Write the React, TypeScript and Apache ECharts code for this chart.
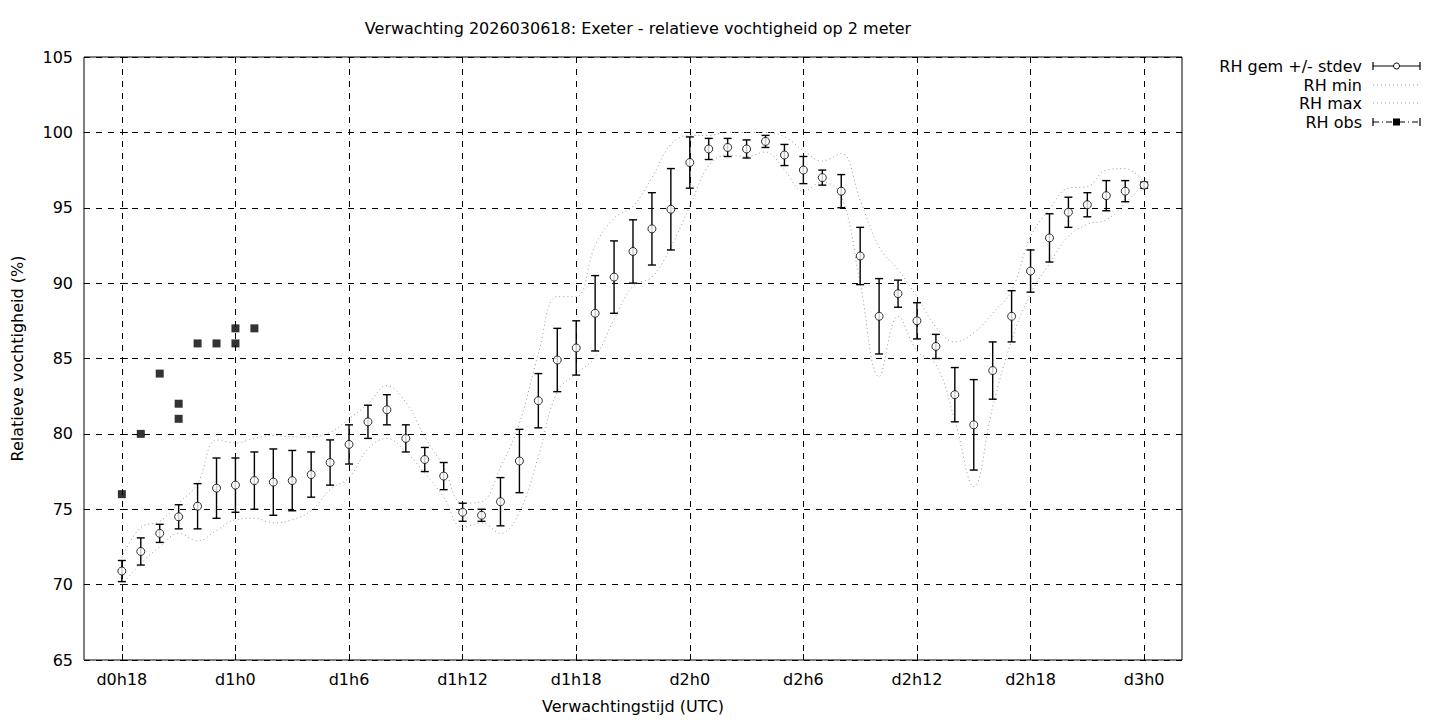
import React, { useEffect, useRef } from "react";
import * as echarts from "echarts";

const hours = Array.from({ length: 55 }, (_, i) => i);

const rhMean = [
  70.9, 72.2, 73.4, 74.5, 75.2, 76.4, 76.6, 76.9, 76.8, 76.9,
  77.3, 78.1, 79.3, 80.8, 81.6, 79.7, 78.3, 77.2, 74.8, 74.6,
  75.5, 78.2, 82.2, 84.9, 85.7, 88.0, 90.4, 92.1, 93.6, 94.9,
  98.0, 98.9, 99.0, 98.9, 99.4, 98.5, 97.5, 97.0, 96.1, 91.8,
  87.8, 89.3, 87.5, 85.8, 82.6, 80.6, 84.2, 87.8, 90.8, 93.0,
  94.7, 95.2, 95.8, 96.1, 96.5,
];

const rhStd = [
  0.7, 0.9, 0.6, 0.8, 1.5, 2.0, 1.8, 1.9, 2.2, 2.0,
  1.5, 1.5, 1.3, 1.1, 1.0, 0.9, 0.8, 0.9, 0.6, 0.4,
  1.6, 2.1, 1.8, 2.1, 1.8, 2.5, 2.4, 2.1, 2.4, 2.7,
  1.7, 0.7, 0.6, 0.6, 0.4, 0.7, 0.9, 0.5, 1.1, 1.9,
  2.5, 0.9, 1.2, 0.8, 1.8, 3.0, 1.9, 1.7, 1.4, 1.6,
  1.0, 0.8, 1.0, 0.7, 0.2,
];

const rhMin = [
  70.0, 71.4, 72.5, 73.4, 72.9, 73.6, 74.3, 74.4, 74.1, 74.3,
  74.9, 76.3, 77.1, 79.0, 79.7, 78.8, 77.4, 75.8, 73.8, 74.1,
  73.4, 74.8, 78.5, 82.8, 84.0, 85.1, 87.6, 89.8, 90.4, 92.4,
  95.1, 97.8, 98.5, 98.4, 98.7, 97.5, 96.1, 96.7, 95.8, 90.0,
  83.8, 87.8, 85.5, 84.6, 80.9, 76.5, 81.8, 86.2, 89.3, 91.3,
  93.1, 93.9, 94.2, 95.3, 96.6,
];

const rhMax = [
  71.8, 73.8, 74.2, 75.4, 76.7, 79.6, 79.4, 79.7, 79.9, 79.8,
  79.8, 80.1, 81.0, 82.0, 83.2, 82.1, 79.8, 77.8, 75.4, 75.5,
  77.8, 80.7, 85.3, 89.1, 89.1, 92.5, 94.3, 95.1, 97.0, 99.2,
  99.8, 99.8, 100.0, 100.0, 100.0, 99.7, 98.8, 98.1, 98.6, 95.5,
  92.4, 90.9, 89.1, 87.1, 86.1, 86.7, 88.0, 89.5, 93.1, 94.9,
  96.3, 96.4, 97.5, 97.6, 96.7,
];

const obsHours = [0, 1, 2, 3, 3, 4, 5, 6, 6, 7];
const obsValues = [76, 80, 84, 82, 81, 86, 86, 86, 87, 87];

const xTickHours = [0, 6, 12, 18, 24, 30, 36, 42, 48, 54];
const xTickLabels = ["d0h18", "d1h0", "d1h6", "d1h12", "d1h18", "d2h0", "d2h6", "d2h12", "d2h18", "d3h0"];

const legendNames = ["RH gem +/- stdev", "RH min", "RH max", "RH obs"];

const FONT = "DejaVu Sans";
const FS = 16;

export default function App() {
  const ref = useRef<HTMLDivElement>(null);
  useEffect(() => {
    if (!ref.current) return;
    const chart = echarts.init(ref.current, null, { renderer: "svg" });

    const lx1 = 1373;
    const lx2 = 1420;
    const lxm = (lx1 + lx2) / 2;
    const ly = [66, 85, 103, 122];
    const black = { stroke: "#000", lineWidth: 1.2 };
    const legendGraphics: any[] = [];
    legendNames.forEach((n, i) => {
      legendGraphics.push({
        type: "text",
        x: 1362,
        y: ly[i],
        style: { text: n, fill: "#000", font: `${FS}px '${FONT}'`, align: "right", verticalAlign: "middle" },
      });
    });
    legendGraphics.push(
      { type: "line", shape: { x1: lx1, y1: ly[0], x2: lx2, y2: ly[0] }, style: black },
      { type: "line", shape: { x1: lx1, y1: ly[0] - 4, x2: lx1, y2: ly[0] + 4 }, style: black },
      { type: "line", shape: { x1: lx2, y1: ly[0] - 4, x2: lx2, y2: ly[0] + 4 }, style: black },
      { type: "circle", shape: { cx: lxm, cy: ly[0], r: 3 }, style: { fill: "#fff", stroke: "#000", lineWidth: 1 } },
      { type: "line", shape: { x1: lx1, y1: ly[1], x2: lx2, y2: ly[1] }, style: { stroke: "#999", lineWidth: 1, lineDash: [1, 3] } },
      { type: "line", shape: { x1: lx1, y1: ly[2], x2: lx2, y2: ly[2] }, style: { stroke: "#999", lineWidth: 1, lineDash: [1, 3] } },
      { type: "line", shape: { x1: lx1, y1: ly[3], x2: lx2, y2: ly[3] }, style: { stroke: "#000", lineWidth: 1.2, lineDash: [6, 3, 1, 3] } },
      { type: "line", shape: { x1: lx1, y1: ly[3] - 4, x2: lx1, y2: ly[3] + 4 }, style: black },
      { type: "line", shape: { x1: lx2, y1: ly[3] - 4, x2: lx2, y2: ly[3] + 4 }, style: black },
      { type: "rect", shape: { x: lxm - 3.5, y: ly[3] - 3.5, width: 7, height: 7 }, style: { fill: "#000" } }
    );

    const option: any = {
      animation: false,
      backgroundColor: "#fff",
      textStyle: { fontFamily: FONT },
      title: {
        text: "Verwachting 2026030618: Exeter - relatieve vochtigheid op 2 meter",
        left: 633,
        top: 15,
        textAlign: "center",
        textStyle: { fontFamily: FONT, fontSize: FS, fontWeight: "normal", color: "#000" },
      },
      grid: {
        left: 84,
        top: 57,
        width: 1098,
        height: 603,
        show: true,
        borderColor: "#000",
        borderWidth: 1,
        backgroundColor: "transparent",
        containLabel: false,
        outerBoundsMode: "none",
      },
      xAxis: {
        type: "value",
        min: -2,
        max: 56,
        name: "Verwachtingstijd (UTC)",
        nameLocation: "middle",
        nameGap: 38,
        nameTextStyle: { fontFamily: FONT, fontSize: FS, color: "#000" },
        axisLine: { show: false },
        axisTick: { show: true, inside: true, length: 6, customValues: xTickHours, lineStyle: { color: "#000" } },
        axisLabel: {
          customValues: xTickHours,
          formatter: (v: number) => xTickLabels[xTickHours.indexOf(v)] ?? "",
          fontFamily: FONT,
          fontSize: FS,
          color: "#000",
          margin: 11,
        },
        splitLine: { show: true, lineStyle: { color: "#000", type: [6, 6], width: 1 } },
      },
      yAxis: {
        type: "value",
        min: 65,
        max: 105,
        interval: 5,
        name: "Relatieve vochtigheid (%)",
        nameLocation: "middle",
        nameGap: 59,
        nameTextStyle: { fontFamily: FONT, fontSize: FS, color: "#000" },
        axisLine: { show: false },
        axisTick: { show: true, inside: true, length: 6, lineStyle: { color: "#000" } },
        axisLabel: { fontFamily: FONT, fontSize: FS, color: "#000", margin: 11 },
        splitLine: { show: true, lineStyle: { color: "#000", type: [6, 6], width: 1 } },
      },
      series: [
        {
          name: "RH min",
          type: "line",
          data: hours.map((h, i) => [h, rhMin[i]]),
          smooth: 0.4,
          showSymbol: false,
          symbol: "none",
          lineStyle: { color: "#9a9a9a", width: 1, type: [1, 3] },
          z: 2,
        },
        {
          name: "RH max",
          type: "line",
          data: hours.map((h, i) => [h, rhMax[i]]),
          smooth: 0.4,
          showSymbol: false,
          symbol: "none",
          lineStyle: { color: "#9a9a9a", width: 1, type: [1, 3] },
          z: 2,
        },
        {
          name: "RH gem +/- stdev bars",
          type: "custom",
          data: hours.map((h, i) => [h, rhMean[i], rhStd[i]]),
          encode: { x: 0, y: 1 },
          z: 3,
          renderItem: (params: any, api: any) => {
            const x = api.value(0);
            const m = api.value(1);
            const s = api.value(2);
            const top = api.coord([x, m + s]);
            const bot = api.coord([x, m - s]);
            const hw = 4;
            const st = { stroke: "#000", lineWidth: 1.4 };
            return {
              type: "group",
              children: [
                { type: "line", shape: { x1: top[0], y1: top[1], x2: bot[0], y2: bot[1] }, style: st },
                { type: "line", shape: { x1: top[0] - hw, y1: top[1], x2: top[0] + hw, y2: top[1] }, style: st },
                { type: "line", shape: { x1: bot[0] - hw, y1: bot[1], x2: bot[0] + hw, y2: bot[1] }, style: st },
              ],
            };
          },
        },
        {
          name: "RH gem +/- stdev",
          type: "scatter",
          data: hours.map((h, i) => [h, rhMean[i]]),
          symbol: "circle",
          symbolSize: 8,
          itemStyle: { color: "#fff", borderColor: "#000", borderWidth: 1 },
          z: 4,
        },
        {
          name: "RH obs",
          type: "scatter",
          data: obsHours.map((h, i) => [h, obsValues[i]]),
          symbol: "rect",
          symbolSize: 8,
          itemStyle: { color: "#000" },
          z: 4,
        },
      ],
      graphic: legendGraphics,
    };
    chart.setOption(option);
    return () => chart.dispose();
  }, []);
  return (
    <div
      ref={ref}
      style={{ position: "fixed", left: 0, top: 0, width: 1440, height: 720, background: "#fff" }}
    />
  );
}
